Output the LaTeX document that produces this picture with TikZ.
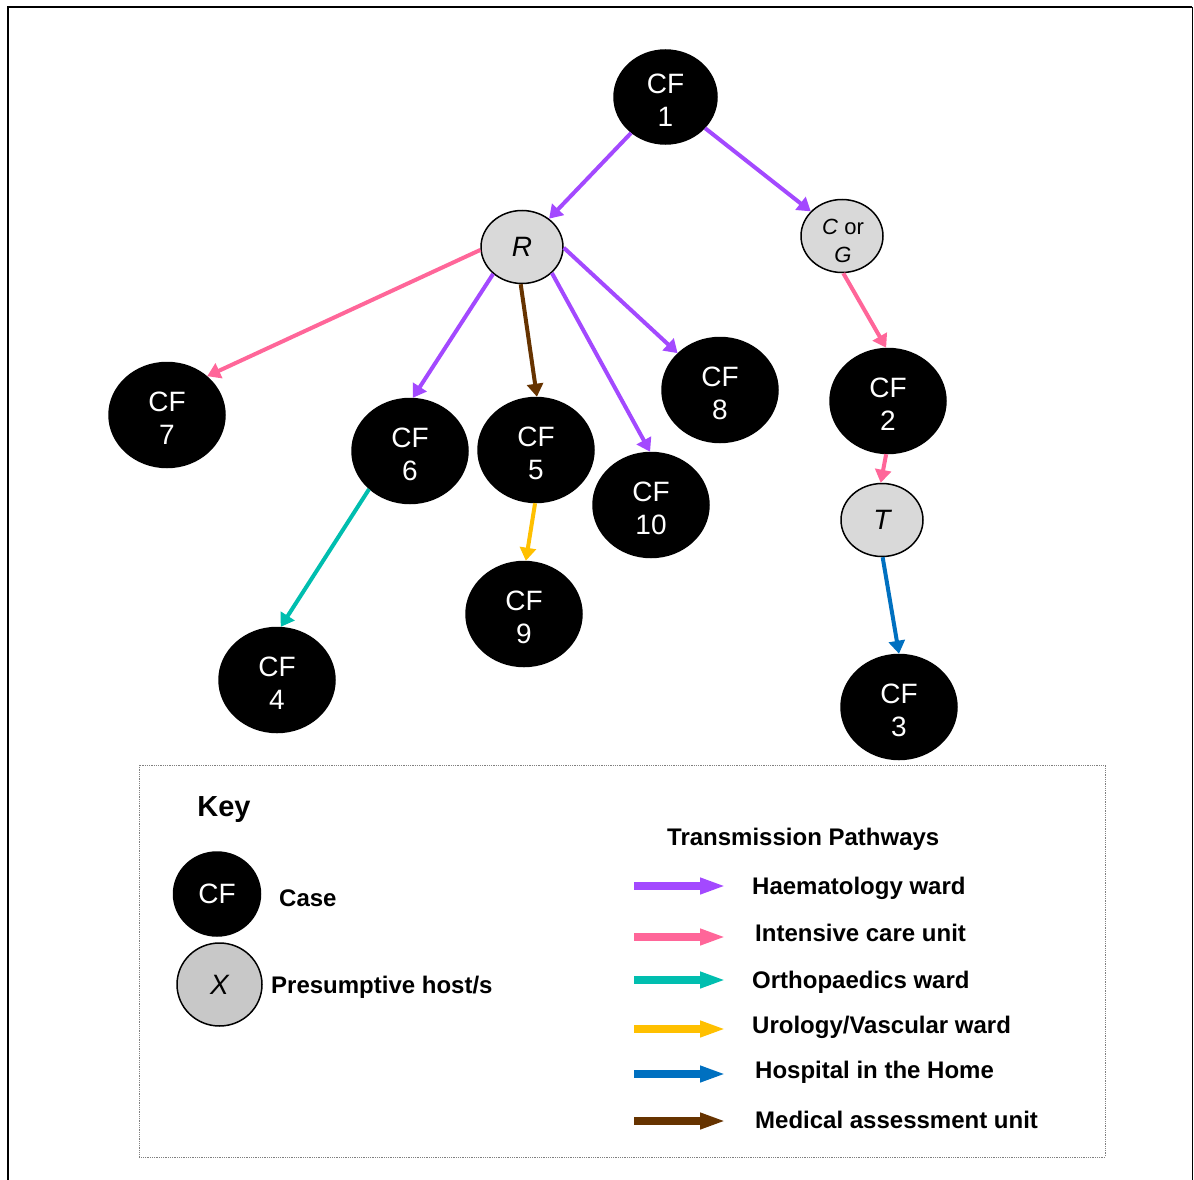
\documentclass[tikz,border=0pt]{standalone}
\usepackage{fontspec}
\setmainfont{Liberation Sans}
\usetikzlibrary{shapes.geometric,arrows.meta}

\definecolor{hemacol}{RGB}{163,73,255}
\definecolor{icucol}{RGB}{255,102,153}
\definecolor{orthocol}{RGB}{0,190,175}
\definecolor{urocol}{RGB}{255,192,0}
\definecolor{hithcol}{RGB}{0,112,192}
\definecolor{maucol}{RGB}{102,51,0}
\definecolor{hostgray}{RGB}{217,217,217}
\definecolor{keygray}{RGB}{200,200,200}

% two-line case label, set a little below the centre of its ellipse
\newcommand{\caselabel}[1]{\rule{0pt}{26pt}CF\\#1}

\tikzset{
  casenode/.style={ellipse, draw=black, line width=1.5pt, fill=black, text=white,
    minimum width=116pt, minimum height=105pt, inner sep=0pt, align=center,
    font=\fontsize{28}{33}\selectfont},
  hostnode/.style={ellipse, draw=black, line width=1.5pt, fill=hostgray,
    minimum width=82pt, minimum height=73pt, inner sep=0pt, align=center,
    font=\fontsize{28}{33}\selectfont\itshape},
  path/.style={line width=4pt, -{Triangle[length=13pt,width=16pt]}},
  keypath/.style={line width=7.5pt, -{Triangle[length=26pt,width=15pt]}},
  keytext/.style={anchor=west, inner sep=0pt, font=\fontsize{24}{28}\selectfont\bfseries},
}

\begin{document}
\begin{tikzpicture}[x=1pt, y=-1pt]
\useasboundingbox (0,0) rectangle (1194,1180);

% outer frame (open at the bottom)
\draw[line width=2.5pt] (8,1180) -- (8,7) -- (1192,7);
\draw[line width=1pt] (1192,7) -- (1192,1180);

% cases and presumptive hosts
\node[casenode, minimum width=103pt, minimum height=94pt] (CF1) at (665.5,97) {\caselabel{1}};
\node[hostnode] (R) at (522,247) {R};
\node[hostnode] (CG) at (842,236) {};
\node[font=\fontsize{22}{28}\selectfont, align=center, inner sep=0pt] (CGtext) at (843,241) {\textit{C} or\\\textit{G}};
\node[casenode] (CF7) at (167,415) {\caselabel{7}};
\node[casenode] (CF6) at (410,451) {\caselabel{6}};
\node[casenode] (CF5) at (536,450) {\caselabel{5}};
\node[casenode] (CF10) at (651,505) {\caselabel{10}};
\node[casenode] (CF8) at (720,390) {\caselabel{8}};
\node[casenode] (CF2) at (888,401) {\caselabel{2}};
\node[hostnode] (T) at (882,520) {T};
\node[casenode] (CF9) at (524,614) {\caselabel{9}};
\node[casenode] (CF4) at (277,680) {\caselabel{4}};
\node[casenode] (CF3) at (899,707) {\caselabel{3}};

% transmission pathways
\draw[path, hemacol] (CF1) -- (R);
\draw[path, hemacol] (CF1) -- (CG);
\draw[path, icucol] (R.184) -- (CF7.44);
\draw[path, hemacol] (R.223) -- (CF6.87);
\draw[path, maucol] (R.268) -- (CF5.89);
\draw[path, hemacol] (R.319) -- (CF10.91);
\draw[path, hemacol] (R.359) -- (CF8.139);
\draw[path, icucol] (CG.272) -- (CF2.92);
\draw[path, icucol] (CF2.268) -- (T.92);
\draw[path, hithcol] (T.271) -- (CF3.90);
\draw[path, orthocol] (CF6.223) -- (CF4.86);
\draw[path, urocol] (CF5.269) -- (CF9.88);

% key
\draw[gray, line width=0.8pt, densely dotted] (139,765) rectangle (1105,1157);
\node[font=\fontsize{29}{33}\selectfont\bfseries, inner sep=0pt] (keytitle) at (224,810) {Key};
\node[casenode, minimum width=87pt, minimum height=84pt] (keycase) at (217,894) {CF};
\node[keytext] (casetext) at (279,898) {Case};
\node[hostnode, fill=keygray, minimum width=85pt, minimum height=83pt] (keyhost) at (219.5,984.5) {X};
\node[keytext] (hosttext) at (271,987) {Presumptive host/s};
\node[keytext] (pathtitle) at (667,839) {Transmission Pathways};

\foreach \nm/\col/\yy/\xt/\yt/\txt in {
  hema/hemacol/886/752/888/Haematology ward,
  icu/icucol/937/755/933/Intensive care unit,
  ortho/orthocol/980/752/982/Orthopaedics ward,
  uro/urocol/1029/752/1027/Urology\slash Vascular ward,
  hith/hithcol/1074/755/1072/Hospital in the Home,
  mau/maucol/1121/755/1120/Medical assessment unit} {
  \coordinate (\nm a) at (634,\yy);
  \coordinate (\nm b) at (726,\yy);
  \draw[keypath, \col] (\nm a) -- (\nm b);
  \node[keytext] (\nm text) at (\xt,\yt) {\txt};
}
\end{tikzpicture}
\end{document}
